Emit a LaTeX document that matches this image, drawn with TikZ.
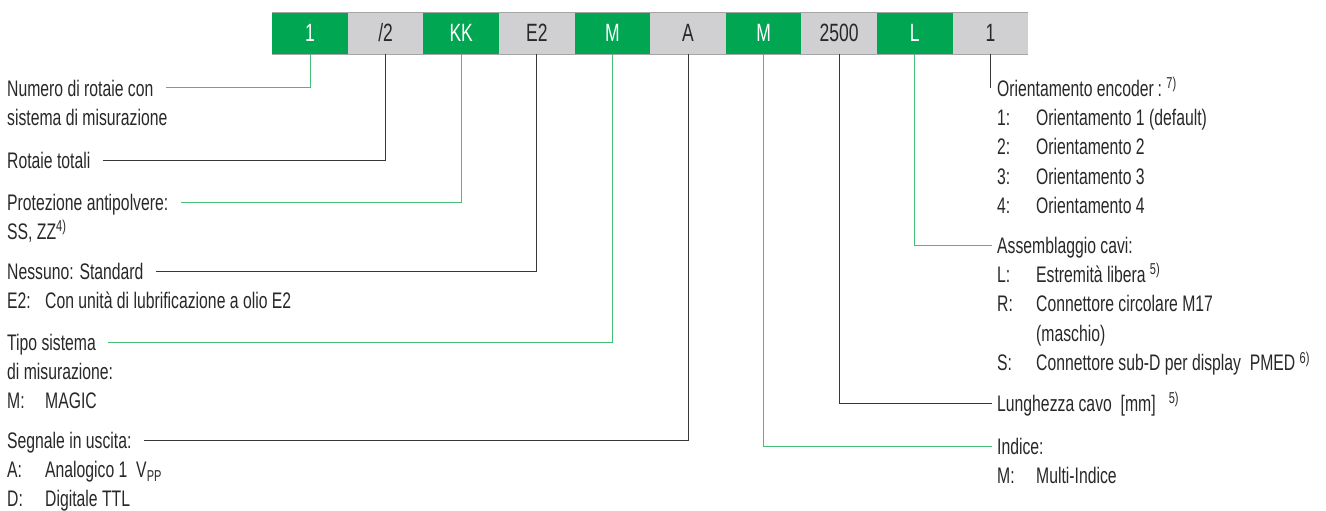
\documentclass[tikz,border=0pt]{standalone}
\usepackage{fontspec}
\setmainfont{Liberation Sans}[FakeStretch=0.7]
\usepackage{tikz}
\usetikzlibrary{positioning}
\definecolor{codegreen}{RGB}{0,166,81}
\definecolor{codegray}{RGB}{208,208,210}
\definecolor{leadgreen}{RGB}{70,190,120}
\definecolor{leaddark}{RGB}{55,55,55}
\definecolor{txtdark}{RGB}{40,40,40}
\newcommand{\lbl}[2][38pt]{\makebox[#1][l]{#2}}
\newcommand{\fnote}[1]{\textsuperscript{#1}}

\begin{document}
\begin{tikzpicture}[
  x=1pt, y=-1pt,
  node distance=13pt,
  cell/.style={rectangle, minimum width=75.6pt, minimum height=42pt, inner sep=0pt, outer sep=0pt, font=\fontsize{25}{28}\selectfont},
  gcell/.style={cell, fill=codegreen, text=white},
  ccell/.style={cell, fill=codegray, text=txtdark},
  txt/.style={anchor=west, inner sep=0pt, text height=16pt, text depth=0pt, text=txtdark, font=\fontsize{22.5}{26}\selectfont},
  subline/.style={txt, below right=13pt and 0pt of #1},
  barline/.style={draw=gray!70, line width=0.8pt},
  glead/.style={draw=leadgreen, line width=1pt},
  dlead/.style={draw=leaddark, line width=1pt},
]
\useasboundingbox (0,0) rectangle (1326,511);

\node[gcell] (num) at (310,33) {1};
\node[ccell, right=0pt of num] (tot) {/2};
\node[gcell, right=0pt of tot] (prot) {KK};
\node[ccell, right=0pt of prot] (lub) {E2};
\node[gcell, right=0pt of lub] (tipo) {M};
\node[ccell, right=0pt of tipo] (seg) {A};
\node[gcell, right=0pt of seg] (ind) {M};
\node[ccell, right=0pt of ind] (lung) {2500};
\node[gcell, right=0pt of lung] (cavi) {L};
\node[ccell, right=0pt of cavi] (ori) {1};
\draw[barline] (num.north west) -- (ori.north east);
\draw[barline] (num.south west) -- (ori.south east);

\node[txt] (tnum) at (7,88) {Numero di rotaie con};
\node[subline=tnum.south west] (tnum2) {sistema di misurazione};
\node[txt] (ttot) at (7,160) {Rotaie totali};
\node[txt] (tprot) at (7,202) {Protezione antipolvere:};
\node[subline=tprot.south west] (tprot2) {SS, ZZ\fnote{4)}};
\node[txt] (tlub) at (7,271) {Nessuno: Standard};
\node[subline=tlub.south west] (tlub2) {\lbl{E2:}Con unità di lubrificazione a olio E2};
\node[txt] (ttipo) at (7,342) {Tipo sistema};
\node[subline=ttipo.south west] (ttipo2) {di misurazione:};
\node[subline=ttipo2.south west] (ttipo3) {\lbl{M:}MAGIC};
\node[txt] (tseg) at (7,440) {Segnale in uscita:};
\node[subline=tseg.south west] (tseg2) {\lbl{A:}Analogico 1\ \ V\textsubscript{PP}};
\node[subline=tseg2.south west] (tseg3) {\lbl{D:}Digitale TTL};

\node[txt] (tori) at (997,88) {Orientamento encoder\,:\ \fnote{7)}};
\node[subline=tori.south west] (tori1) {\lbl[39pt]{1:}Orientamento 1 (default)};
\node[subline=tori1.south west] (tori2) {\lbl[39pt]{2:}Orientamento 2};
\node[subline=tori2.south west] (tori3) {\lbl[39pt]{3:}Orientamento 3};
\node[subline=tori3.south west] (tori4) {\lbl[39pt]{4:}Orientamento 4};
\node[txt] (tcavi) at (997,245) {Assemblaggio cavi:};
\node[subline=tcavi.south west] (tcavi1) {\lbl[39pt]{L:}Estremità libera\ \fnote{5)}};
\node[subline=tcavi1.south west] (tcavi2) {\lbl[39pt]{R:}Connettore circolare M17};
\node[subline=tcavi2.south west] (tcavi3) {\hspace*{39pt}(maschio)};
\node[subline=tcavi3.south west] (tcavi4) {\lbl[39pt]{S:}Connettore sub-D per display\ \ PMED\ \fnote{6)}};
\node[txt] (tlung) at (997,403) {Lunghezza cavo\ \ [mm]\ \ \ \fnote{5)}};
\node[txt] (tind) at (997,446) {Indice:};
\node[subline=tind.south west] (tind1) {\lbl[39pt]{M:}Multi-Indice};

\draw[glead] (num.south) |- ([xshift=12pt]tnum.east);
\draw[dlead] (tot.south) |- ([xshift=12pt]ttot.east);
\draw[glead] (prot.south) |- ([xshift=12pt]tprot.east);
\draw[dlead] (lub.south) |- ([xshift=12pt]tlub.east);
\draw[glead] (tipo.south) |- ([xshift=12pt]ttipo.east);
\draw[dlead] (seg.south) |- ([xshift=12pt]tseg.east);
\draw[glead] (ind.south) |- ([xshift=-5pt]tind.west);
\draw[dlead] (lung.south) |- ([xshift=-5pt]tlung.west);
\draw[glead] (cavi.south) |- ([xshift=-5pt]tcavi.west);
\draw[dlead] (ori.south) -- (ori.south |- tori.west);
\end{tikzpicture}
\end{document}
